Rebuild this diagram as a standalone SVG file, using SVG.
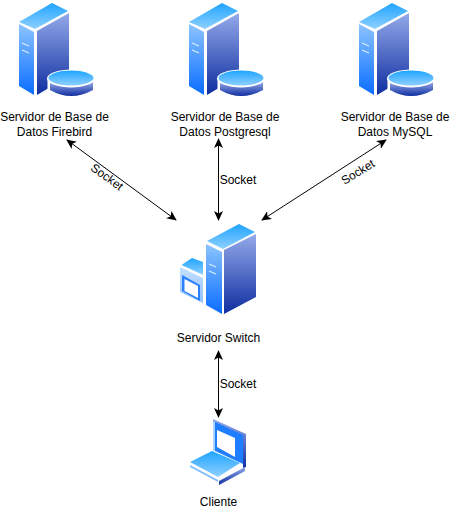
<svg xmlns="http://www.w3.org/2000/svg" width="453" height="507" viewBox="0 0 453 507">
<style>
text{font-family:"Liberation Sans",Arial,sans-serif;font-size:12px;fill:#000;text-anchor:middle}
.c{fill:none;stroke:#000;stroke-width:1;marker-start:url(#a);marker-end:url(#a)}
</style>
<defs>
<marker id="a" markerUnits="userSpaceOnUse" viewBox="0 0 10 10" refX="9" refY="5" markerWidth="10" markerHeight="10" orient="auto-start-reverse"><path d="M0 0.500L10 5L0 9.500L2.500 5Z" fill="#000"/></marker>
<linearGradient id="top" x1="0" y1="0" x2="0" y2="1"><stop offset="0" stop-color="#1fa4ff"/><stop offset="1" stop-color="#8fd0ff"/></linearGradient>
<linearGradient id="front" x1="0" y1="0" x2="0" y2="1"><stop offset="0" stop-color="#8cc4ff"/><stop offset="1" stop-color="#0a6dff"/></linearGradient>
<linearGradient id="side" x1="0" y1="0" x2="0" y2="1"><stop offset="0" stop-color="#94aaea"/><stop offset="1" stop-color="#0f2ea0"/></linearGradient>
<linearGradient id="pane" x1="0" y1="0" x2="0" y2="1"><stop offset="0" stop-color="#c5e0ff"/><stop offset="1" stop-color="#8fc2ff"/></linearGradient>
<g id="tower">
<path d="M19 22L52 3L68 11L35 29Z" fill="url(#top)"/>
<path d="M19 24L34 32V95L19 86Z" fill="url(#front)"/>
<path d="M37 31L69 13V76L37 95Z" fill="url(#side)"/>
<path d="M22 43L29 46M22 50L29 53" stroke="#d8ecff" stroke-width="1.200" fill="none"/>
</g>
<g id="disc">
<path d="M47.500 78H94.500V91Q71 103 47.500 91Z" fill="#fff"/>
<path d="M50 82H93V90Q71 102 50 90Z" fill="url(#side)"/>
<ellipse cx="71" cy="78.500" rx="24" ry="9" fill="#fff"/>
<ellipse cx="71" cy="78" rx="22.500" ry="7.500" fill="url(#top)"/>
</g>
</defs>
<g id="connectors">
<path class="c" d="M67 140L176 220"/>
<path class="c" d="M218.500 139V220"/>
<path class="c" d="M386 140L262 220"/>
<path class="c" d="M218.500 351V417"/>
<text x="107" y="181" transform="rotate(36 107 177)">Socket</text>
<text x="238" y="184">Socket</text>
<text x="358" y="176" transform="rotate(-32 358 172)">Socket</text>
<text x="238" y="388">Socket</text>
</g>
<g id="firebird"><use href="#tower"/><use href="#disc"/>
<text x="54.500" y="121">Servidor de Base de</text><text x="54.500" y="136">Datos Firebird</text></g>
<g id="postgresql"><use href="#tower" x="170"/><use href="#disc" x="170"/>
<text x="225" y="121">Servidor de Base de</text><text x="225" y="136">Datos Postgresql</text></g>
<g id="mysql"><use href="#tower" x="340"/><use href="#disc" x="340"/>
<text x="395" y="121">Servidor de Base de</text><text x="395" y="136">Datos MySQL</text></g>
<g id="switch">
<path d="M207 241L239 224L255 232L223 249Z" fill="url(#top)"/>
<path d="M206 244L222 252V314L206 305Z" fill="url(#front)"/>
<path d="M224 250L256 234V297L224 314Z" fill="url(#side)"/>
<path d="M209 264L216 267M209 271L216 274" stroke="#d8ecff" stroke-width="1.200" fill="none"/>
<path d="M181.500 265L192 258L203 262V275Z" fill="url(#top)"/>
<path d="M180 267L203 278V303L180 292Z" fill="url(#pane)"/>
<path d="M182 275L200 285V301L182 291Z" fill="#2a7fff"/>
<path d="M184.500 279L198 286V298L184.500 291Z" fill="#fff"/>
<text x="218.500" y="342">Servidor Switch</text>
</g>
<g id="cliente">
<path d="M213 419L246 434V467L243 468V436L213 423Z" fill="url(#side)"/>
<path d="M213 421L243 435V464L213 450Z" fill="#1f7dff"/>
<path d="M213 421L215 422V451L213 450Z" fill="#a9d4ff"/>
<path d="M217 430L235 438V457L217 447Z" fill="#fff"/>
<path d="M190 462L212 451L240 463L218 477Z" fill="url(#top)"/>
<path d="M190 465L218 480V482L190 467Z" fill="#7dbcff"/>
<path d="M219 481L245 467V471L219 485Z" fill="url(#side)"/>
<text x="218.500" y="505.500">Cliente</text>
</g>
</svg>
